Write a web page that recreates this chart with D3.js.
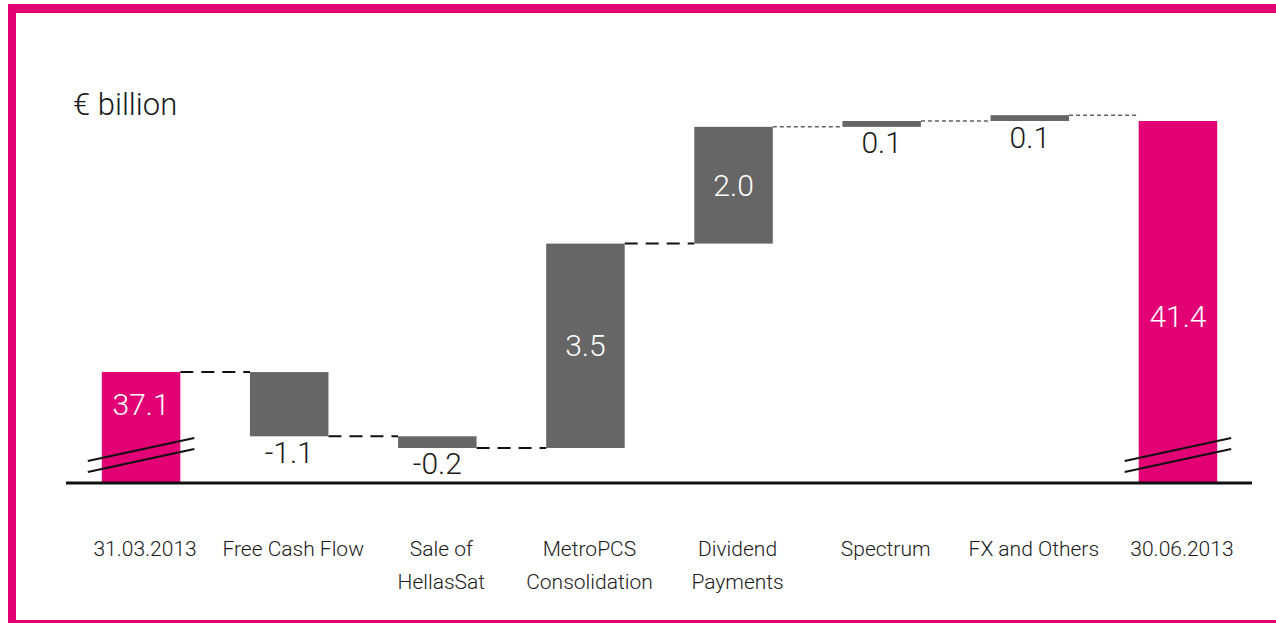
<!DOCTYPE html>
<html>
<head>
<meta charset="utf-8">
<script src="https://cdn.jsdelivr.net/npm/d3@7"></script>
<style>
  body { margin: 0; background: #fff; }
  text { font-family: Roboto, "Liberation Sans", sans-serif; font-weight: 300; }
</style>
</head>
<body>
<div id="chart"></div>
<script>
// Net debt bridge, Q2 2013 (€ billion)
const categories = ["31.03.2013", "Free Cash Flow", "Sale of|HellasSat", "MetroPCS|Consolidation",
                    "Dividend|Payments", "Spectrum", "FX and Others", "30.06.2013"];
const startValue = 37.1;
const deltas = [-1.1, -0.2, 3.5, 2.0, 0.1, 0.1];
const endValue = 41.4;
const axisFloor = 35.2;   // broken axis: bars start here
const unitLabel = "€ billion";

const W = 1276, H = 623;
const pink = "#e20074", grey = "#666666";

// build waterfall rows
let run = startValue;
const rows = [{ name: categories[0], y0: axisFloor, y1: startValue, label: startValue, total: true }];
deltas.forEach((d, i) => {
  const prev = run;
  run = +(run + d).toFixed(2);
  rows.push({ name: categories[i + 1], y0: prev, y1: run, label: d, total: false, end: run });
});
rows.push({ name: categories[7], y0: axisFloor, y1: endValue, label: endValue, total: true });

const svg = d3.select("#chart").append("svg")
  .attr("width", W).attr("height", H);

// magenta frame
svg.append("rect").attr("x", 0).attr("y", 0).attr("width", W).attr("height", H).attr("fill", "#fff");
svg.append("rect").attr("x", 8).attr("y", 4).attr("width", W - 8).attr("height", 9).attr("fill", pink);
svg.append("rect").attr("x", 8).attr("y", 4).attr("width", 8).attr("height", H - 4).attr("fill", pink);
svg.append("rect").attr("x", 8).attr("y", 620).attr("width", W - 8).attr("height", 3).attr("fill", pink);

const x = d3.scaleBand()
  .domain(categories)
  .range([67, 1252])
  .paddingInner(0.47)
  .paddingOuter(0.235);

const y = d3.scaleLinear()
  .domain([axisFloor, endValue])
  .range([483, 121]);

// unit title
svg.append("text")
  .attr("x", 73).attr("y", 115)
  .style("font-size", "31px")
  .attr("fill", "#1a1a1a")
  .text(unitLabel);

// connectors
for (let i = 0; i < rows.length - 1; i++) {
  const v = rows[i].total ? rows[i].y1 : rows[i].end;
  const thin = i >= 4;
  svg.append("line")
    .attr("x1", x(rows[i].name) + x.bandwidth())
    .attr("x2", x(rows[i + 1].name))
    .attr("y1", y(v)).attr("y2", y(v))
    .attr("stroke", "#111")
    .attr("stroke-width", thin ? 1 : 2)
    .attr("stroke-dasharray", thin ? "4,3" : "13,8");
}

// bars
svg.selectAll(".bar")
  .data(rows)
  .enter()
  .append("rect")
    .attr("class", "bar")
    .attr("x", d => x(d.name))
    .attr("width", x.bandwidth())
    .attr("y", d => y(Math.max(d.y0, d.y1)))
    .attr("height", d => Math.abs(y(d.y0) - y(d.y1)))
    .attr("fill", d => d.total ? pink : grey);

// break marks on the total bars
rows.filter(d => d.total).forEach(d => {
  const x0 = x(d.name) - 14, x1 = x(d.name) + x.bandwidth() + 14;
  [0, 11].forEach(off => {
    svg.append("line")
      .attr("x1", x0).attr("x2", x1)
      .attr("y1", 472 - off).attr("y2", 449 - off)
      .attr("stroke", "#111").attr("stroke-width", 2);
  });
});

// baseline
svg.append("line")
  .attr("x1", 66).attr("x2", 1252)
  .attr("y1", 483).attr("y2", 483)
  .attr("stroke", "#111").attr("stroke-width", 3);

// value labels
const fmt = d3.formatLocale({ decimal: ".", thousands: ",", grouping: [3], currency: ["", ""], minus: "-" }).format(".1f");
svg.selectAll(".val")
  .data(rows)
  .enter()
  .append("text")
    .attr("class", "val")
    .attr("text-anchor", "middle")
    .attr("dominant-baseline", "central")
    .style("font-size", "30px")
    .attr("x", d => x(d.name) + x.bandwidth() / 2)
    .attr("y", d => {
      const top = y(Math.max(d.y0, d.y1)), bot = y(Math.min(d.y0, d.y1));
      if (d.total) return (bot - top) < 150 ? top + 32 : (top + bot) / 2 + 14;
      if (Math.abs(d.label) >= 1.5) return (top + bot) / 2;
      return bot + 16;
    })
    .attr("fill", d => (d.total || Math.abs(d.label) >= 1.5) ? "#fff" : "#1a1a1a")
    .text(d => fmt(d.label));

// category labels
svg.selectAll(".cat")
  .data(rows)
  .enter()
  .append("text")
    .attr("class", "cat")
    .attr("text-anchor", "middle")
    .style("font-size", "21px")
    .attr("fill", "#1a1a1a")
    .attr("y", 556)
    .each(function(d) {
      const cx = x(d.name) + x.bandwidth() / 2 + 4;
      const t = d3.select(this);
      d.name.split("|").forEach((p, i) => {
        t.append("tspan")
          .attr("x", cx)
          .attr("dy", i === 0 ? 0 : 33)
          .text(p);
      });
    });
</script>
</body>
</html>
